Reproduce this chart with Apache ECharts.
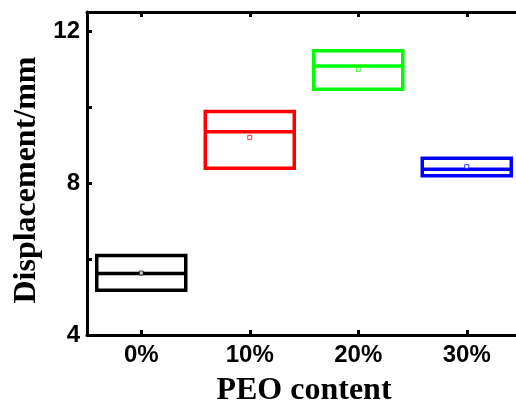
<!DOCTYPE html>
<html>
<head>
<meta charset="utf-8">
<script src="https://cdn.jsdelivr.net/npm/echarts@6/dist/echarts.min.js"></script>
<style>html,body{margin:0;padding:0;background:#fff}#c{width:516px;height:410px}</style>
</head>
<body>
<div id="c"></div>
<script>
var categories = ['0%', '10%', '20%', '30%'];
var whiskerLow = [5.18, 8.39, 10.47, 8.19];
var q1 = [5.18, 8.39, 10.47, 8.19];
var median = [5.62, 9.35, 11.08, 8.36];
var q3 = [6.09, 9.88, 11.48, 8.65];
var whiskerHigh = [6.09, 9.88, 11.48, 8.65];
var means = [5.63, 9.20, 10.99, 8.43];
var colors = ['#000000', '#ff0000', '#00ff00', '#0000ff'];
var yTickLabels = ['4', '8', '12'];

var chart = echarts.init(document.getElementById('c'), null, {renderer: 'canvas'});
var boxData = categories.map(function (c, i) {
  return {
    value: [whiskerLow[i], q1[i], median[i], q3[i], whiskerHigh[i]],
    itemStyle: {color: 'rgba(0,0,0,0)', borderColor: colors[i], borderWidth: 3.5}
  };
});
var meanData = categories.map(function (c, i) {
  return {value: [i, means[i]], itemStyle: {color: '#fff', borderColor: colors[i], borderWidth: 1}};
});
var labelFont = {fontFamily: 'Liberation Sans', fontWeight: 'bold', fontSize: 24, color: '#000'};
var nameFont = {fontFamily: 'Liberation Serif', fontWeight: 'bold', fontSize: 32, color: '#000'};
var axisLine = {show: true, onZero: false, lineStyle: {color: '#000', width: 3}};
var tick = {show: true, inside: true, length: 5, lineStyle: {color: '#000', width: 3}};
chart.setOption({
  animation: false,
  grid: {left: 87, top: 12, width: 434, height: 323, outerBoundsMode: 'none', containLabel: false},
  xAxis: [{
    type: 'category', data: categories, boundaryGap: true,
    axisLine: axisLine, axisTick: Object.assign({alignWithLabel: true}, tick),
    axisLabel: Object.assign({margin: 8}, labelFont),
    splitLine: {show: false},
    name: 'PEO content', nameLocation: 'middle', nameGap: 40, nameTextStyle: nameFont
  }, {
    type: 'category', data: categories, position: 'top', boundaryGap: true,
    axisLine: axisLine, axisTick: Object.assign({alignWithLabel: true}, tick),
    axisLabel: {show: false}, splitLine: {show: false}
  }],
  yAxis: [{
    type: 'value', min: 4, max: 12.5, interval: 2,
    axisLine: axisLine, axisTick: tick,
    axisLabel: Object.assign({margin: 7, formatter: function (v) {
      return yTickLabels.indexOf(String(v)) >= 0 ? String(v) : '';
    }}, labelFont),
    splitLine: {show: false},
    name: 'Displacement/mm', nameLocation: 'middle', nameGap: 44, nameRotate: 90,
    nameTextStyle: Object.assign({padding: [0, 13, 0, 0]}, nameFont)
  }, {
    type: 'value', min: 4, max: 12.5, interval: 2, position: 'right',
    axisLine: axisLine, axisTick: tick, axisLabel: {show: false}, splitLine: {show: false}
  }],
  series: [{
    type: 'boxplot', data: boxData, boxWidth: [89, 89],
    emphasis: {disabled: true}
  }, {
    type: 'scatter', data: meanData, symbol: 'rect', symbolSize: 4,
    emphasis: {disabled: true}
  }]
});
</script>
</body>
</html>
